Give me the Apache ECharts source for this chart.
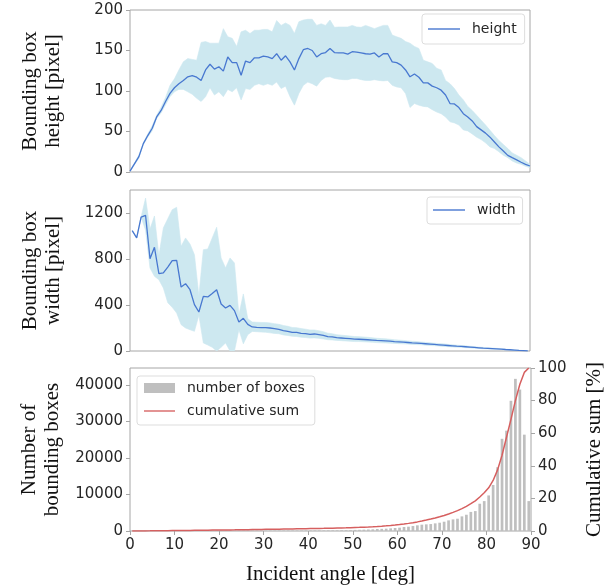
<!DOCTYPE html>
<html><head><meta charset="utf-8">
<script src="https://cdn.jsdelivr.net/npm/echarts@6/dist/echarts.min.js"></script>
<style>html,body{margin:0;padding:0;background:#fff}#c{width:615px;height:588px}</style>
</head><body><div id="c"></div>
<script>
// ---------- data ----------
const angleH = [0,1,2,3,4,5,6,7,8,9,10,11,12,13,14,15,16,17,18,19,20,21,22,23,24,25,26,27,28,29,30,31,32,33,34,35,36,37,38,39,40,41,42,43,44,45,46,47,48,49,50,51,52,53,54,55,56,57,58,59,60,61,62,63,64,65,66,67,68,69,70,71,72,73,74,75,76,77,78,79,80,81,82,83,84,85,86,87,88,89,90];
const heightMean = [1,10,19,35,45,54,68,76,87,97,
  104,109,113,117.5,119,117,113,126,133,127,
  130,124.5,142,135,135,119.5,137,135,141,141,
  143,142,140,146,138,143.5,136,126,140,151,
  152.5,150,142,146,147.5,152.5,147.5,147,147,145.5,
  148.5,148,147,146,145.5,147,142,146,146,136,
  135,132,126,117.5,121,117,110,110,106,104,
  101,95,84.5,84,79.5,72,68,63,56,52,
  48,43,37,31,26,20.5,17.7,15,12,9.5,7.4];
const heightUpper = [1.5,11,21,36,47,57,70,80,92,107,
  115,126,136,140,139,138,160,161,159,159,
  159,177,167,165,155,173,175,171,175,175,
  176,176,173,187,181,184,181,171,185.5,187.6,
  188.5,188.5,181,183,181,187.6,178.6,179,179,179,
  181,179,178.6,181,179,177,179,181,181,169,
  167,165,161,159,155,152.5,138,136,134,128,
  126,113,109,103,95,89,81,76,70,64,
  58,51.5,45,39,34,29,23.5,20.6,17.7,13.6,9.5];
const heightLower = [0.5,9,17,34,43,51,66,73,83,93,
  99,102,102,99,96,91,87,93,104,95,
  99,93,102,99,104,89,103,102,107,109,
  107,109,107,111,103,106,93,82.5,97,107,
  111,109,106,113,117,117.5,115.5,114.6,114,114,
  115.5,115.5,114,113,113,114,113,112.5,113,107,
  105,104,97,79.6,84.5,82.5,81,80.4,77,74,
  72,68,62,60.6,58,52,50.7,47,43,40,
  36,31,29,25,20.6,17.7,13.6,11,9.5,7,5.4];

const angleW = [0.5,1.5,2.5,3.5,4.5,5.5,6.5,7.5,8.5,9.5,10.5,11.5,12.5,13.5,14.5,15.5,16.5,17.5,18.5,19.5,20.5,21.5,22.5,23.5,24.5,25.5,26.5,27.5,28.5,29.5,30.5,31.5,32.5,33.5,34.5,35.5,36.5,37.5,38.5,39.5,40.5,41.5,42.5,43.5,44.5,45.5,46.5,47.5,48.5,49.5,50.5,51.5,52.5,53.5,54.5,55.5,56.5,57.5,58.5,59.5,60.5,61.5,62.5,63.5,64.5,65.5,66.5,67.5,68.5,69.5,70.5,71.5,72.5,73.5,74.5,75.5,76.5,77.5,78.5,79.5,80.5,81.5,82.5,83.5,84.5,85.5,86.5,87.5,88.5,89.5];
const widthMean = [1046,983,1165,1180,803,902,672,680,730,785,
  788,556,585,533,403,339,475,470,500,533,
  409,374,397,351,252,284,232,209,205,203,
  203,200,195,188,177,171,162,162,154,151,
  145,148,142,136,125,122,116,113,110,107,
  104,102,100,98,95,92,90,88,85,82,
  80,77,74,71,69,66,63,60,57,54,
  51,48,45,42,40,37,34,31,28,25,
  23,21,19,16,13,11,8,5,3,1];
const widthUpper = [1046,983,1165,1330,1060,1174,830,1070,1150,1229,
  1250,910,983,930,837,480,881,887,983,1076,
  809,722,809,765,316,496,281,252,250,248,
  248,244,238,232,222,215,205,203,195,190,
  183,183,176,168,155,150,142,138,134,130,
  126,125,122,119,115,111,108,106,102,98,
  95,92,88,85,82,78,75,72,68,65,
  62,58,55,51,48,45,41,38,34,31,
  28,26,23,20,16,13,10,7,4,2];
const widthLower = [1046,983,1165,1050,722,650,620,548,420,380,
  330,229,200,185,171,310,70,52,32,0,
  32,70,0,0,185,62,142,170,168,165,
  163,158,153,150,140,135,128,126,120,117,
  112,114,110,105,98,96,92,90,87,85,
  82,82,80,78,76,73,71,70,68,66,
  64,62,60,57,56,54,51,48,46,43,
  40,38,35,33,32,29,27,24,22,19,
  18,16,15,12,10,9,6,3,2,0];

const boxCount = [30,50,60,70,80,85,90,95,95,100,
  100,100,105,105,105,110,110,110,110,115,
  115,115,120,120,120,125,125,125,130,130,
  130,135,135,140,140,145,150,150,155,160,
  165,170,175,180,190,200,210,220,230,245,
  300,330,364,410,455,545,590,640,730,820,
  910,1090,1180,1360,1550,1730,1820,1900,2090,2270,
  2545,2910,3180,3360,4000,4450,5220,5450,7460,8180,
  9730,12600,17450,25230,27450,35630,41630,38700,26360,8180];
const cumPercent = [0.01,0.03,0.04,0.07,0.09,0.12,0.15,0.18,0.21,0.24,
  0.27,0.30,0.33,0.37,0.40,0.43,0.47,0.50,0.54,0.58,
  0.61,0.65,0.69,0.72,0.76,0.80,0.84,0.88,0.92,0.96,
  1.00,1.04,1.09,1.13,1.18,1.22,1.27,1.32,1.36,1.42,
  1.47,1.52,1.58,1.63,1.69,1.76,1.82,1.89,1.96,2.04,
  2.14,2.24,2.35,2.48,2.63,2.80,2.98,3.19,3.42,3.67,
  3.96,4.31,4.68,5.11,5.59,6.14,6.71,7.31,7.97,8.69,
  9.49,10.41,11.41,12.47,13.73,15.13,16.78,18.49,20.84,23.42,
  26.5,31.0,37.5,46.5,57.5,68.5,80.0,90.0,97.3,100];

const ticksHeight = [0,50,100,150,200];
const ticksWidth = [0,400,800,1200];
const ticksCount = [0,10000,20000,30000,40000];
const ticksPct = [0,20,40,60,80,100];
const ticksAngle = [0,10,20,30,40,50,60,70,80,90];

// ---------- styling ----------
const FONT = 'DejaVu Sans';
const SERIF = 'Liberation Serif';
const TXT = '#262626';
const SPINE = '#a6a6a6';
const BAND = '#cde8f0';
const BLUE = '#4878d0';
const RED = '#d65f5f';
const GREY = '#bfbfbf';
const LINE_ICON = 'path://M0 0H64V2.8H0Z';

const chart = echarts.init(document.getElementById('c'), null, {renderer: 'canvas'});

function grid(top, height, width) {
  return {left: 130, top: top, width: width, height: height, show: true,
    borderColor: SPINE, borderWidth: 1, backgroundColor: 'transparent',
    containLabel: false, outerBoundsMode: 'none'};
}
function yAxis(gi, max, interval, ticks, name, pos, gap) {
  return {
    type: 'value', gridIndex: gi, min: 0, max: max, interval: interval, position: pos,
    name: name, nameLocation: 'middle', nameRotate: 90, nameGap: gap,
    nameTextStyle: {fontFamily: SERIF, fontSize: 21, color: '#111', lineHeight: 23},
    axisLine: {show: false},
    axisTick: {show: true, length: 4, inside: false, lineStyle: {color: SPINE}, customValues: ticks},
    axisLabel: {color: TXT, fontFamily: FONT, fontSize: 15, margin: 7, customValues: ticks,
      showMaxLabel: true, showMinLabel: true, formatter: v => String(v)},
    splitLine: {show: false}
  };
}
function xAxis(gi, shown) {
  return {
    type: 'value', gridIndex: gi, min: 0, max: 90, interval: 10,
    name: shown ? 'Incident angle [deg]' : '', nameLocation: 'middle', nameGap: 33,
    nameTextStyle: {fontFamily: SERIF, fontSize: 21, color: '#111'},
    axisLine: {show: false},
    axisTick: {show: shown, length: 4, lineStyle: {color: SPINE}, customValues: ticksAngle},
    axisLabel: {show: shown, color: TXT, fontFamily: FONT, fontSize: 15, margin: 7,
      customValues: ticksAngle, showMaxLabel: true, showMinLabel: true, formatter: v => String(v)},
    splitLine: {show: false}
  };
}
function band(gi, xs, lo, hi) {
  return {
    type: 'custom', xAxisIndex: gi, yAxisIndex: gi, silent: true, z: 1, clip: true,
    data: xs.map((x, i) => [x, lo[i], hi[i]]),
    encode: {x: 0, y: [1, 2]},
    renderItem: function (params, api) {
      if (params.dataIndex !== 0) return null;
      const pts = [];
      for (let i = 0; i < xs.length; i++) pts.push(api.coord([xs[i], hi[i]]));
      for (let i = xs.length - 1; i >= 0; i--) pts.push(api.coord([xs[i], lo[i]]));
      return {type: 'polygon', shape: {points: pts}, style: {fill: BAND, stroke: BAND, lineWidth: 0.6}};
    }
  };
}
function legend(items, left, top, padding, iw, ih, orient) {
  return {
    data: items, left: left, top: top, orient: orient || 'horizontal', padding: padding,
    itemWidth: iw, itemHeight: ih, itemGap: 7, symbolKeepAspect: true,
    borderColor: '#dddddd', borderWidth: 1, borderRadius: 3, backgroundColor: 'rgba(255,255,255,0.85)',
    textStyle: {color: TXT, fontFamily: FONT, fontSize: 14, lineHeight: 16, padding: [0, 0, 0, 7]},
    selectedMode: false
  };
}

const option = {
  animation: false,
  backgroundColor: '#ffffff',
  grid: [grid(10, 162, 400), grid(190, 161, 400), grid(368, 163, 401)],
  xAxis: [xAxis(0, false), xAxis(1, false), xAxis(2, true)],
  yAxis: [
    yAxis(0, 200, 50, ticksHeight, 'Bounding box\nheight [pixel]', 'left', 65),
    yAxis(1, 1400, 400, ticksWidth, 'Bounding box\nwidth [pixel]', 'left', 65),
    yAxis(2, 44600, 10000, ticksCount, 'Number of\nbounding boxes', 'left', 65),
    yAxis(2, 100, 20, ticksPct, 'Cumulative sum [%]', 'right', 52)
  ],
  legend: [
    legend([{name: 'height', icon: LINE_ICON}], 422, 14, [7, 8, 7, 6], 32, 14),
    legend([{name: 'width', icon: LINE_ICON}], 427, 197, [5, 7, 6, 6], 32, 14),
    legend([{name: 'number of boxes', icon: 'rect'}, {name: 'cumulative sum', icon: LINE_ICON}], 137, 376, [4, 10, 6, 7], 31, 10, 'vertical')
  ],
  series: [
    band(0, angleH, heightLower, heightUpper),
    {type: 'line', name: 'height', xAxisIndex: 0, yAxisIndex: 0, z: 3, symbol: 'none', showSymbol: false,
      data: angleH.map((x, i) => [x, heightMean[i]]),
      lineStyle: {color: BLUE, width: 1.3}, itemStyle: {color: BLUE}},
    band(1, angleW, widthLower, widthUpper),
    {type: 'line', name: 'width', xAxisIndex: 1, yAxisIndex: 1, z: 3, symbol: 'none', showSymbol: false,
      data: angleW.map((x, i) => [x, widthMean[i]]),
      lineStyle: {color: BLUE, width: 1.3}, itemStyle: {color: BLUE}},
    {type: 'bar', name: 'number of boxes', xAxisIndex: 2, yAxisIndex: 2, z: 2, barWidth: 2.7,
      data: angleW.map((x, i) => [x, boxCount[i]]),
      itemStyle: {color: GREY}},
    {type: 'line', name: 'cumulative sum', xAxisIndex: 2, yAxisIndex: 3, z: 3, symbol: 'none', showSymbol: false,
      data: angleW.map((x, i) => [x, cumPercent[i]]),
      lineStyle: {color: RED, width: 1.5}, itemStyle: {color: RED}}
  ]
};
chart.setOption(option);
</script>
</body></html>
